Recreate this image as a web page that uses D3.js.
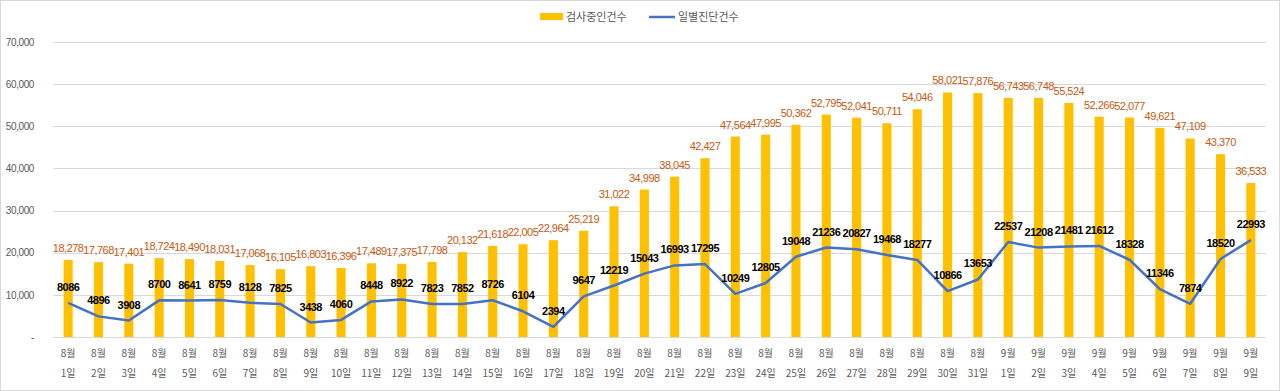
<!DOCTYPE html>
<html>
<head>
<meta charset="utf-8">
<script src="https://cdn.jsdelivr.net/npm/d3@7"></script>
<style>
  body { margin: 0; background: #fff; }
  svg { display: block; }
  .num { font-family: "Liberation Sans", Arial, sans-serif; }
  .kor { font-family: "Noto Sans CJK KR", "Noto Sans", sans-serif; }
</style>
</head>
<body>
<svg id="chart" width="1280" height="391"></svg>
<script>
// 날짜 (8월 1일 ~ 9월 9일)
var months = [8,8,8,8,8,8,8,8,8,8,8,8,8,8,8,8,8,8,8,8,8,8,8,8,8,8,8,8,8,8,8,9,9,9,9,9,9,9,9,9];
var days   = [1,2,3,4,5,6,7,8,9,10,11,12,13,14,15,16,17,18,19,20,21,22,23,24,25,26,27,28,29,30,31,1,2,3,4,5,6,7,8,9];

// 검사중인건수 (bars)
var testing = [18278,17768,17401,18724,18490,18031,17068,16105,16803,16396,
               17489,17375,17798,20132,21618,22005,22964,25219,31022,34998,
               38045,42427,47564,47995,50362,52795,52041,50711,54046,58021,
               57876,56743,56748,55524,52266,52077,49621,47109,43370,36533];

// 일별진단건수 (line)
var daily = [8086,4896,3908,8700,8641,8759,8128,7825,3438,4060,
             8448,8922,7823,7852,8726,6104,2394,9647,12219,15043,
             16993,17295,10249,12805,19048,21236,20827,19468,18277,10866,
             13653,22537,21208,21481,21612,18328,11346,7874,18520,22993];

var yTicks = [0,10000,20000,30000,40000,50000,60000,70000];

var svg = d3.select("#chart"),
    margin = {top: 42, right: 14, bottom: 54, left: 53},
    width = +svg.attr("width") - margin.left - margin.right,
    height = +svg.attr("height") - margin.top - margin.bottom;

// outer frame
svg.append("rect")
  .attr("x", 0.5).attr("y", 0.5)
  .attr("width", 1279).attr("height", 390)
  .attr("fill", "#fff").attr("stroke", "#d9d9d9");

var g = svg.append("g").attr("transform", "translate(" + margin.left + "," + margin.top + ")");

var idx = d3.range(testing.length);

var x = d3.scaleBand().domain(idx).range([0, width]).paddingInner(0.7).paddingOuter(0.35);
var y = d3.scaleLinear().domain([0, 70000]).range([height, 0]);

// grid
g.append("g")
  .selectAll("line")
  .data(yTicks)
  .enter().append("line")
    .attr("x1", 0).attr("x2", width)
    .attr("y1", function(d) { return Math.round(y(d)) + 0.5; })
    .attr("y2", function(d) { return Math.round(y(d)) + 0.5; })
    .attr("stroke", "#d9d9d9").attr("stroke-width", 1);

// y labels
var yAxis = g.append("g")
  .call(d3.axisLeft(y).tickValues(yTicks).tickSize(0).tickPadding(19)
    .tickFormat(function(d) { return d === 0 ? "-" : d3.format(",")(d); }));
yAxis.select(".domain").remove();
yAxis.selectAll("text").attr("class", "num").attr("fill", "#595959")
  .style("font-size", "10px").style("letter-spacing", "-0.4px");

// x labels (two lines)
var xl = g.append("g").attr("class", "kor")
  .selectAll("text")
  .data(idx)
  .enter().append("text")
    .attr("x", function(i) { return x(i) + x.bandwidth() / 2; })
    .attr("y", height + 20)
    .attr("text-anchor", "middle")
    .attr("fill", "#595959")
    .style("font-size", "10px");
xl.append("tspan").attr("x", function(i) { return x(i) + x.bandwidth() / 2; })
  .text(function(i) { return months[i] + "월"; });
xl.append("tspan").attr("x", function(i) { return x(i) + x.bandwidth() / 2; })
  .attr("dy", 20)
  .text(function(i) { return days[i] + "일"; });

// bars
g.append("g")
  .selectAll("rect")
  .data(idx)
  .enter().append("rect")
    .attr("x", function(i) { return x(i); })
    .attr("width", x.bandwidth())
    .attr("y", function(i) { return y(testing[i]); })
    .attr("height", function(i) { return height - y(testing[i]); })
    .attr("fill", "#FFC000");

// bar labels
g.append("g").attr("class", "num")
  .selectAll("text")
  .data(idx)
  .enter().append("text")
    .attr("x", function(i) { return x(i) + x.bandwidth() / 2; })
    .attr("y", function(i) { return y(testing[i]) - 8; })
    .attr("text-anchor", "middle")
    .attr("fill", "#C55A11")
    .style("font-size", "11px")
    .style("letter-spacing", "-0.5px")
    .text(function(i) { return d3.format(",")(testing[i]); });

// line
var line = d3.line()
  .x(function(i) { return x(i) + x.bandwidth() / 2; })
  .y(function(i) { return y(daily[i]); });

g.append("path")
  .datum(idx)
  .attr("d", line)
  .attr("fill", "none")
  .attr("stroke", "#4472C4")
  .attr("stroke-width", 2.5)
  .attr("stroke-linejoin", "round");

// line labels
g.append("g").attr("class", "num")
  .selectAll("text")
  .data(idx)
  .enter().append("text")
    .attr("x", function(i) { return x(i) + x.bandwidth() / 2; })
    .attr("y", function(i) { return y(daily[i]) - 12; })
    .attr("text-anchor", "middle")
    .attr("fill", "#000")
    .style("font-size", "11px")
    .style("font-weight", "bold")
    .style("letter-spacing", "-0.5px")
    .text(function(i) { return daily[i]; });

// legend
var lg = svg.append("g").attr("class", "kor");
lg.append("rect").attr("x", 540).attr("y", 13).attr("width", 23).attr("height", 7).attr("fill", "#FFC000");
lg.append("text").attr("x", 566).attr("y", 21).attr("fill", "#595959").style("font-size", "11px").text("검사중인건수");
lg.append("line").attr("x1", 649).attr("x2", 675).attr("y1", 17).attr("y2", 17)
  .attr("stroke", "#4472C4").attr("stroke-width", 2.5);
lg.append("text").attr("x", 678).attr("y", 21).attr("fill", "#595959").style("font-size", "11px").text("일별진단건수");
</script>
</body>
</html>
